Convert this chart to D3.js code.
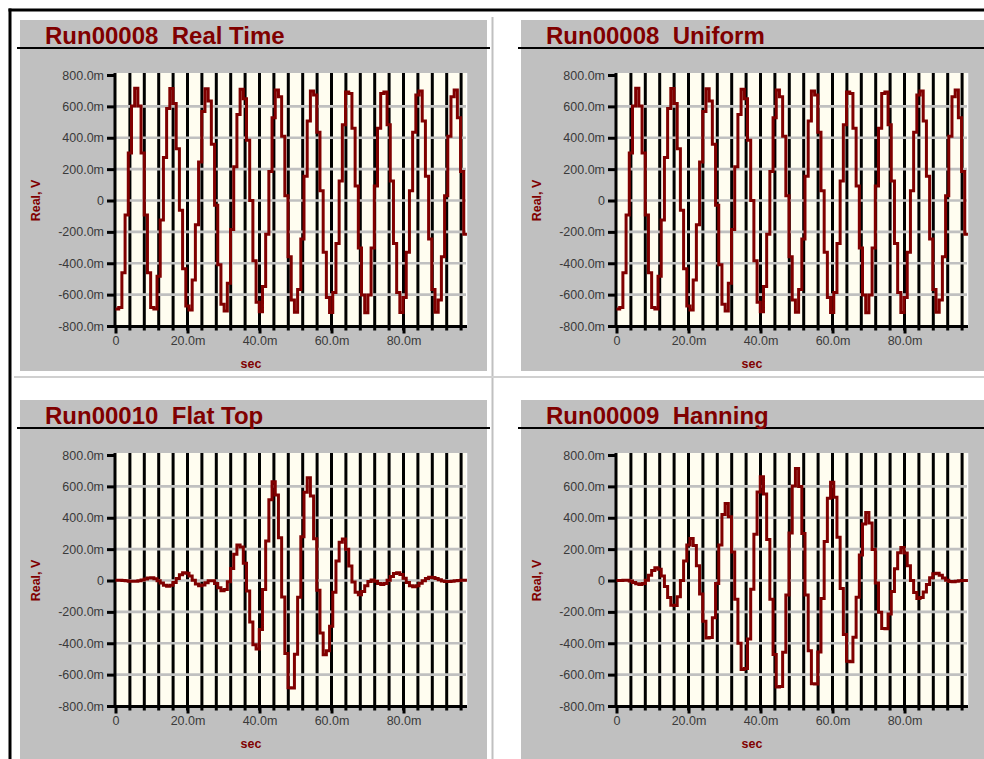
<!DOCTYPE html>
<html><head><meta charset="utf-8">
<script src="https://cdn.jsdelivr.net/npm/d3@7"></script>
<style>
html,body{margin:0;padding:0;background:#fff;}
svg{display:block;}
text{font-family:"Liberation Sans",Arial,sans-serif;}
</style></head><body>
<svg id="chart" width="984" height="759"></svg>
<script>
// ---------------- data ----------------
const panelTitles = ["Run00008  Real Time", "Run00008  Uniform", "Run00010  Flat Top", "Run00009  Hanning"];
const sampleIntervalMs = 0.8875;   // one held sample = 0.8875 ms
// Real, V (in mV) for each sample
const realTimeValues = [
 -691,-682,-460,-93,302,603,715,603,302,-93,-460,
 -682,-691,-483,-124,274,586,714,619,330,-62,-435,
 -672,-698,-506,-155,245,567,712,634,358,-31,-410,
 -661,-704,-527,-185,215,548,709,648,384,0,-384,
 -648,-709,-548,-215,185,527,704,661,410,31,-358,
 -634,-712,-567,-245,155,506,698,672,435,62,-330,
 -619,-714,-586,-274,124,483,691,682,460,93,-302,
 -603,-715,-603,-302,93,460,682,691,483,124,-274,
 -586,-714,-619,-330,62,435,672,698,506,155,-245,
 -567,-712,-634,-358,31,410,661,704,527,185,-215];
const uniformValues = [
 -691,-682,-460,-93,302,603,715,603,302,-93,-460,
 -682,-691,-483,-124,274,586,714,619,330,-62,-435,
 -672,-698,-506,-155,245,567,712,634,358,-31,-410,
 -661,-704,-527,-185,215,548,709,648,384,0,-384,
 -648,-709,-548,-215,185,527,704,661,410,31,-358,
 -634,-712,-567,-245,155,506,698,672,435,62,-330,
 -619,-714,-586,-274,124,483,691,682,460,93,-302,
 -603,-715,-603,-302,93,460,682,691,483,124,-274,
 -586,-714,-619,-330,62,435,672,698,506,155,-245,
 -567,-712,-634,-358,31,410,661,704,527,185,-215];
const flatTopValues = [
 1,1,0,-2,-4,-5,-5,-2,3,10,16,
 17,11,-1,-16,-30,-36,-30,-12,13,37,49,
 46,28,1,-22,-34,-29,-15,-2,-2,-19,-47,
 -66,-58,-8,76,168,226,213,110,-67,-264,-410,
 -437,-313,-58,252,515,630,545,272,-105,-465,-684,
 -686,-470,-107,279,562,655,539,266,-62,-335,-473,
 -448,-292,-75,124,244,264,199,92,-10,-75,-91,
 -70,-34,-6,3,-5,-19,-26,-19,1,26,45,
 50,38,14,-13,-33,-40,-34,-18,-1,13,20,
 19,12,4,-3,-6,-7,-5,-2,0,1,1];
const hanningValues = [
 0,0,2,1,-3,-12,-21,-25,-19,2,33,
 64,81,71,29,-38,-108,-157,-159,-104,0,124,
 227,268,223,94,-86,-260,-367,-364,-237,-19,227,
 420,491,406,181,-119,-400,-568,-561,-373,-55,295,
 564,662,551,261,-120,-471,-679,-675,-457,-93,302,
 603,714,600,299,-92,-448,-658,-659,-455,-115,249,
 524,626,530,276,-51,-344,-515,-518,-362,-107,162,
 360,433,367,197,-16,-202,-306,-307,-214,-70,75,
 177,211,176,94,0,-76,-114,-109,-73,-25,18,
 43,46,34,16,1,-7,-8,-5,-2,0,0];
const panelSeries = [realTimeValues, uniformValues, flatTopValues, hanningValues];

const yTickValues = [800, 600, 400, 200, 0, -200, -400, -600, -800];
const yTickLabels = ["800.0m", "600.0m", "400.0m", "200.0m", "0", "-200.0m", "-400.0m", "-600.0m", "-800.0m"];
const yGridValues = [600, 400, 200, 0, -200, -400, -600];
const xTickValues = [0, 20, 40, 60, 80];
const xTickLabels = ["0", "20.0m", "40.0m", "60.0m", "80.0m"];
const xGridValues = [4, 8, 12, 16, 20, 24, 28, 32, 36, 40, 44, 48, 52, 56, 60, 64, 68, 72, 76, 80, 84, 88, 92, 96];
const xAxisTitle = "sec";
const yAxisTitle = "Real, V";

// ---------------- drawing ----------------
const W = 984, H = 759;
const svg = d3.select("#chart");
const dark = "#800000";

svg.append("rect").attr("width", W).attr("height", H).attr("fill", "#fff");

const defs = svg.append("defs");

panelTitles.forEach((title, i) => {
  const ox = (i % 2) * 501, oy = Math.floor(i / 2) * 380;
  const g = svg.append("g").attr("transform", `translate(${ox},${oy})`);

  g.append("rect").attr("x", 20).attr("y", 20).attr("width", 467).attr("height", i < 2 ? 351 : 400)
    .attr("fill", "#c0c0c0");
  g.append("line").attr("x1", 17).attr("x2", 490).attr("y1", 48).attr("y2", 48)
    .attr("stroke", "#000").attr("stroke-width", 2);
  g.append("text").attr("x", 45).attr("y", 43.5).text(title)
    .style("white-space", "pre").attr("font-size", 24).attr("font-weight", "bold")
    .attr("fill", dark);

  const x = d3.scaleLinear().domain([0, 97.5]).range([115.5, 466.5]);
  const y = d3.scaleLinear().domain([-800, 800]).range([326, 75]);

  const pl = 115, pr = 467, pt = 73, pb = 326.5;
  g.append("rect").attr("x", pl).attr("y", pt).attr("width", pr - pl).attr("height", pb - pt)
    .attr("fill", "#fffdf0");
  g.append("line").attr("x1", pr - 0.5).attr("x2", pr - 0.5).attr("y1", pt).attr("y2", pb)
    .attr("stroke", "#ffffff").attr("stroke-width", 1.5);

  // vertical grid (black)
  g.append("g").selectAll("line").data(xGridValues).join("line")
    .attr("x1", d => x(d)).attr("x2", d => x(d)).attr("y1", pt).attr("y2", 330.5)
    .attr("stroke", "#000").attr("stroke-width", 3);
  // horizontal grid (gray)
  g.append("g").selectAll("line").data(yGridValues).join("line")
    .attr("x1", pl).attr("x2", pr - 1).attr("y1", d => y(d)).attr("y2", d => y(d))
    .attr("stroke", "#c0c0c0").attr("stroke-width", 2.6);

  // axes
  const yAxis = d3.axisLeft(y).tickValues(yTickValues)
    .tickFormat(d => yTickLabels[yTickValues.indexOf(d)]).tickSize(8).tickPadding(3);
  const ya = g.append("g").attr("transform", `translate(${pl},0)`).call(yAxis);
  ya.select(".domain").remove();
  ya.selectAll(".tick line").attr("stroke", "#000").attr("stroke-width", 3);
  ya.selectAll(".tick text").attr("font-size", 12.5).attr("fill", "#3a3a3a")
    .attr("font-family", "Liberation Sans, Arial, sans-serif");

  const xAxis = d3.axisBottom(x).tickValues(xTickValues)
    .tickFormat(d => xTickLabels[xTickValues.indexOf(d)]).tickSize(7).tickPadding(3);
  const xa = g.append("g").attr("transform", `translate(0,${pb})`).call(xAxis);
  xa.select(".domain").remove();
  xa.selectAll(".tick line").attr("stroke", "#000").attr("stroke-width", 3);
  xa.selectAll(".tick text").attr("font-size", 12.5).attr("fill", "#3a3a3a")
    .attr("font-family", "Liberation Sans, Arial, sans-serif");

  g.append("line").attr("x1", pl).attr("x2", pl).attr("y1", pt).attr("y2", pb + 1.5)
    .attr("stroke", "#000").attr("stroke-width", 3);
  g.append("line").attr("x1", pl - 1.5).attr("x2", pr).attr("y1", pb).attr("y2", pb)
    .attr("stroke", "#000").attr("stroke-width", 3);

  // axis titles
  g.append("text").attr("transform", `translate(40,200.5) rotate(-90)`).attr("text-anchor", "middle")
    .attr("font-size", 12.5).attr("font-weight", "bold").attr("fill", dark).text(yAxisTitle);
  g.append("text").attr("x", 251).attr("y", 368).attr("text-anchor", "middle")
    .attr("font-size", 12.5).attr("font-weight", "bold").attr("fill", dark).text(xAxisTitle);

  // trace
  const cid = "clip" + i;
  defs.append("clipPath").attr("id", cid).append("rect")
    .attr("x", pl).attr("y", pt - 2).attr("width", pr - pl).attr("height", pb - pt + 2);
  const vals = panelSeries[i];
  const pts = vals.map((v, k) => [k * sampleIntervalMs, v]);
  pts.push([vals.length * sampleIntervalMs, vals[vals.length - 1]]);
  const line = d3.line().x(d => x(d[0])).y(d => y(d[1])).curve(d3.curveStepAfter);
  g.append("path").attr("d", line(pts)).attr("clip-path", `url(#${cid})`)
    .attr("fill", "none").attr("stroke", dark).attr("stroke-width", 3)
    .attr("stroke-linejoin", "miter");
});

// separators and frame
svg.append("line").attr("x1", 492.5).attr("x2", 492.5).attr("y1", 17).attr("y2", H)
  .attr("stroke", "#c0c0c0").attr("stroke-width", 2);
svg.append("line").attr("x1", 14).attr("x2", W).attr("y1", 377).attr("y2", 377)
  .attr("stroke", "#d0d0d0").attr("stroke-width", 2);
svg.append("line").attr("x1", 8.5).attr("x2", W).attr("y1", 10).attr("y2", 10)
  .attr("stroke", "#000").attr("stroke-width", 3);
svg.append("line").attr("x1", 10).attr("x2", 10).attr("y1", 8.5).attr("y2", H)
  .attr("stroke", "#000").attr("stroke-width", 3);
</script>
</body></html>
